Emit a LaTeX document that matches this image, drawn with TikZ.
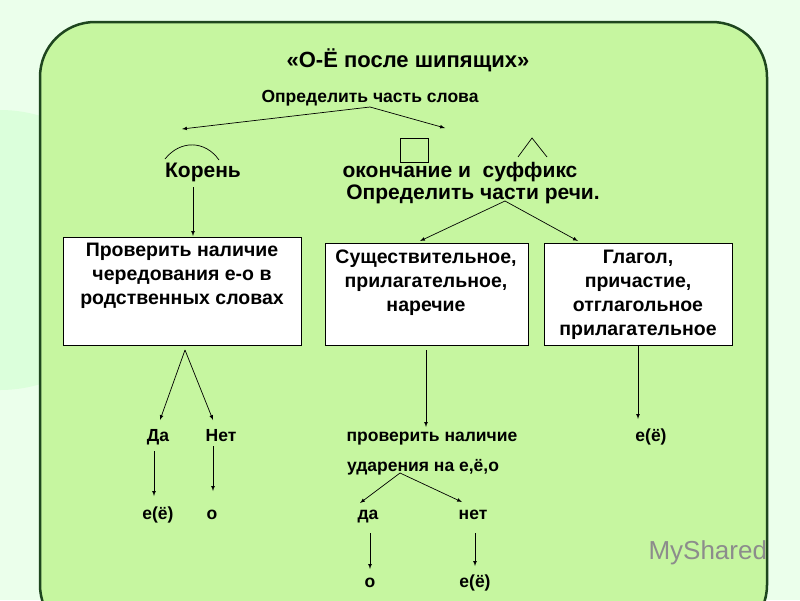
\documentclass[tikz,border=0pt]{standalone}
\usepackage{fontspec}
\setmainfont{Liberation Sans}
\begin{document}
\begin{tikzpicture}[x=1pt,y=-1pt,
 bt/.style={font=\bfseries\fontsize{17.5}{19}\selectfont,inner sep=1pt},
 mid/.style={font=\bfseries\fontsize{21}{24}\selectfont,inner sep=1pt},
 bx/.style={draw=black,fill=white,line width=0.8pt,anchor=north west,inner sep=0pt},
 bxt/.style={align=center,font=\bfseries\fontsize{19.5}{24}\selectfont,anchor=north,inner sep=0pt},
 ar/.style={-latex,line width=0.7pt}]
\useasboundingbox (0,0) rectangle (800,600);
\fill[green!8!white] (0,0) rectangle (800,600);
\fill[green!18!white,opacity=0.6] (0,250) circle (140);
\filldraw[fill={rgb,255:red,198;green,246;blue,160},draw={rgb,255:red,30;green,70;blue,30},line width=2.5pt,rounded corners=55pt] (40,22) rectangle (767,640);
\node[font=\bfseries\fontsize{22}{24}\selectfont] (title) at (408,60) {«О-Ё после шипящих»};
\node[bt] (ops) at (370,98) {Определить часть слова};
\coordinate (o1) at (370,107);
\coordinate (l1) at (182,129);
\coordinate (r1) at (445,128);
\draw[ar] (o1) -- (l1);
\draw[ar] (o1) -- (r1);
\draw[line width=0.7pt] (165,159) .. controls (180,140) and (205,140) .. (219,160);
\draw[line width=0.7pt] (400,138) rectangle (428,162);
\draw[line width=0.7pt] (518,157) -- (532,138) -- (547,157);
\node[mid] (kor) at (203,172) {Корень};
\node[mid] (ok) at (460,172) {окончание и\ \ суффикс};
\node[mid] (opr) at (473,194) {Определить части речи.};
\coordinate (k1) at (193,187);
\coordinate (k2) at (193,236);
\draw[ar] (k1) -- (k2);
\coordinate (p0) at (505,201);
\coordinate (p1) at (420,241);
\coordinate (p2) at (578,241);
\draw[ar] (p0) -- (p1);
\draw[ar] (p0) -- (p2);
\node[bx,minimum width=238,minimum height=108] (b1) at (63,237) {};
\node[bxt] (t1) at (182,243) {Проверить наличие\\чередования е-о в\\родственных словах};
\node[bx,minimum width=203,minimum height=102] (b2) at (325,243) {};
\node[bxt] (t2) at (426,250) {Существительное,\\прилагательное,\\наречие};
\node[bx,minimum width=188,minimum height=102] (b3) at (544,243) {};
\node[bxt] (t3) at (638,250) {Глагол,\\причастие,\\отглагольное\\прилагательное};
\coordinate (a0) at (185,350);
\coordinate (a1) at (160,420);
\coordinate (a2) at (213,420);
\draw[ar] (a0) -- (a1);
\draw[ar] (a0) -- (a2);
\node[bt,anchor=base] (da) at (158,441) {Да};
\node[bt,anchor=base] (net) at (221,441) {Нет};
\node[bt,anchor=base] (e1) at (158,519) {е(ё)};
\node[bt,anchor=base] (o1n) at (212,519) {о};
\draw[ar] (154,451) -- (154,496);
\draw[ar] (213,446) -- (213,491);
\coordinate (m0) at (426,350);
\coordinate (m1) at (426,427);
\draw[ar] (m0) -- (m1);
\node[bt,anchor=base] (pn) at (432,441) {проверить наличие};
\node[bt,anchor=base] (ud) at (423,471) {ударения на е,ё,о};
\coordinate (u0) at (400,473);
\draw[ar] (u0) -- (360,503);
\draw[ar] (u0) -- (462,502);
\node[bt,anchor=base] (da2) at (368,519) {да};
\node[bt,anchor=base] (net2) at (473,519) {нет};
\draw[ar] (370,533) -- (370,569);
\draw[ar] (475,533) -- (475,566);
\node[bt,anchor=base] (o2) at (370,587) {о};
\node[bt,anchor=base] (e2) at (475,587) {е(ё)};
\coordinate (g0) at (638,345);
\coordinate (g1) at (638,419);
\draw[ar] (g0) -- (g1);
\node[bt,anchor=base] (e3) at (651,441) {е(ё)};
\node[text=black!45,font=\fontsize{26}{28}\selectfont,anchor=west] (ms) at (645,553) {MyShared};
\end{tikzpicture}
\end{document}
